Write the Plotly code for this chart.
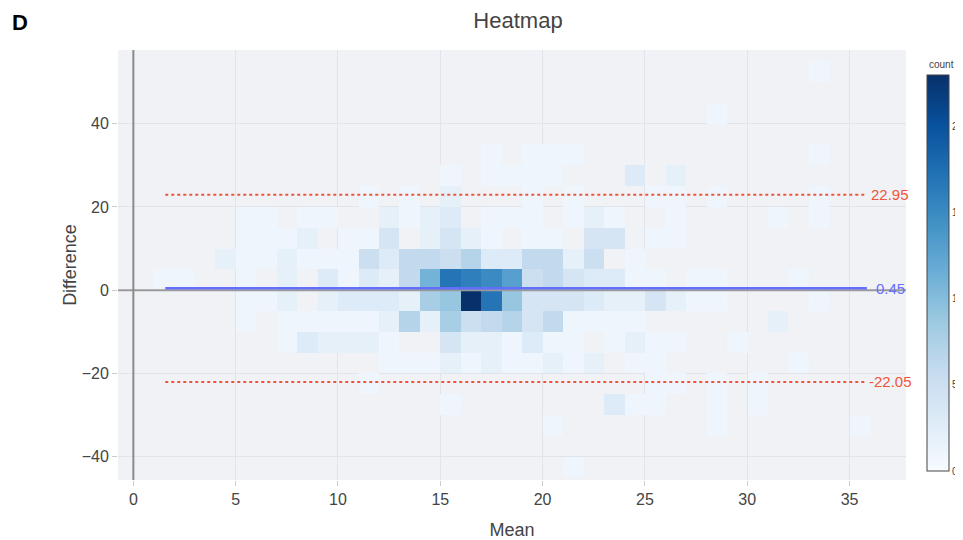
import numpy as np
import plotly.graph_objects as go

# ---- data: 2D histogram of (Mean, Difference), bins of 1 (Mean) x 5 (Difference)
x_edges = list(range(1, 38))          # Mean bin edges
y_edges = list(range(-45, 65, 5))     # Difference bin edges

# non-empty cells: left edge of Mean bin, lower edge of Difference bin, count
cell_mean = [33, 28,
             17, 19, 20, 21, 33,
             15, 17, 18, 19, 20, 24, 26,
             11, 13, 15, 19, 21, 25, 26, 28, 33,
             5, 6, 8, 9, 12, 13, 14, 15, 17, 18, 19, 21, 22, 23, 26, 31, 33,
             5, 6, 7, 8, 10, 11, 12, 14, 15, 16, 17, 19, 20, 22, 23, 25, 26,
             4, 5, 6, 7, 8, 9, 10, 11, 12, 13, 14, 15, 16, 17, 18, 19, 20, 21, 22, 24,
             1, 2, 5, 7, 9, 10, 11, 12, 13, 14, 15, 16, 17, 18, 19, 20, 21, 22, 23, 24, 25, 27, 28, 32,
             5, 6, 7, 9, 10, 11, 12, 13, 14, 15, 16, 17, 18, 19, 20, 21, 22, 23, 24, 25, 26, 27, 28, 33,
             5, 7, 8, 9, 10, 11, 12, 13, 14, 15, 16, 17, 18, 19, 20, 21, 22, 23, 24, 31,
             7, 8, 9, 10, 11, 12, 15, 16, 17, 18, 19, 20, 21, 23, 24, 25, 26, 29,
             12, 13, 14, 15, 16, 17, 18, 19, 20, 21, 22, 24, 25, 32,
             11, 25, 26, 28, 30,
             15, 23, 24, 25, 28, 30,
             20, 28, 35,
             21]
cell_diff = [50, 40,
             30, 30, 30, 30, 30,
             25, 25, 25, 25, 25, 25, 25,
             20, 20, 20, 20, 20, 20, 20, 20, 20,
             15, 15, 15, 15, 15, 15, 15, 15, 15, 15, 15, 15, 15, 15, 15, 15, 15,
             10, 10, 10, 10, 10, 10, 10, 10, 10, 10, 10, 10, 10, 10, 10, 10, 10,
             5, 5, 5, 5, 5, 5, 5, 5, 5, 5, 5, 5, 5, 5, 5, 5, 5, 5, 5, 5,
             0, 0, 0, 0, 0, 0, 0, 0, 0, 0, 0, 0, 0, 0, 0, 0, 0, 0, 0, 0, 0, 0, 0, 0,
             -5, -5, -5, -5, -5, -5, -5, -5, -5, -5, -5, -5, -5, -5, -5, -5, -5, -5, -5, -5, -5, -5, -5, -5,
             -10, -10, -10, -10, -10, -10, -10, -10, -10, -10, -10, -10, -10, -10, -10, -10, -10, -10, -10, -10,
             -15, -15, -15, -15, -15, -15, -15, -15, -15, -15, -15, -15, -15, -15, -15, -15, -15, -15,
             -20, -20, -20, -20, -20, -20, -20, -20, -20, -20, -20, -20, -20, -20,
             -25, -25, -25, -25, -25,
             -30, -30, -30, -30, -30, -30,
             -35, -35, -35,
             -45]
cell_count = [1, 1,
              1, 1, 1, 1, 1,
              1, 1, 1, 1, 1, 3, 2,
              1, 1, 2, 1, 1, 1, 1, 1, 1,
              1, 1, 1, 1, 2, 1, 2, 3, 1, 1, 1, 1, 2, 1, 1, 1, 1,
              1, 1, 1, 2, 1, 1, 4, 2, 4, 2, 1, 1, 1, 4, 4, 1, 1,
              2, 1, 1, 2, 1, 1, 1, 5, 3, 6, 6, 5, 7, 3, 3, 6, 6, 2, 5, 1,
              1, 1, 1, 2, 3, 1, 3, 2, 6, 11, 17, 16, 15, 13, 5, 6, 4, 3, 3, 1, 1, 1, 1, 1,
              1, 1, 2, 2, 3, 3, 3, 2, 8, 9, 23, 17, 9, 4, 4, 4, 3, 2, 2, 4, 2, 1, 1, 1,
              1, 1, 1, 1, 1, 1, 2, 7, 2, 8, 5, 6, 7, 4, 6, 1, 1, 1, 1, 2,
              1, 3, 2, 2, 2, 1, 4, 2, 2, 1, 3, 1, 1, 1, 2, 1, 1, 1,
              1, 1, 1, 2, 1, 2, 1, 1, 2, 1, 2, 1, 1, 1,
              1, 1, 1, 1, 1,
              1, 3, 1, 1, 1, 1,
              1, 1, 1,
              1]

# Bland-Altman statistics
mean_diff = 0.45
upper_loa = 22.95
lower_loa = -22.05
mean_min, mean_max = 1.56, 35.85
label_offset = 1.13   # labels centred just right of the lines

x_range = [-0.75, 37.76]
y_range = [-45.6, 57.7]

# ---- build grid
z = np.full((len(y_edges) - 1, len(x_edges) - 1), np.nan)
for xb, yb, c in zip(cell_mean, cell_diff, cell_count):
    z[(yb - y_edges[0]) // 5, xb - x_edges[0]] = c
x_centers = [e + 0.5 for e in x_edges[:-1]]
y_centers = [e + 2.5 for e in y_edges[:-1]]

BLUE = "#636EFA"
RED = "#EF553B"
FONT = "Arial"

fig = go.Figure()
fig.add_trace(go.Heatmap(
    x=x_centers, y=y_centers, z=z,
    colorscale="Blues", zmin=0, zmax=23,
    hoverongaps=False,
    colorbar=dict(
        thickness=22, thicknessmode="pixels",
        len=396, lenmode="pixels",
        x=1.0265, xanchor="left", xpad=0,
        y=0.0209, yanchor="bottom", ypad=0,
        outlinewidth=1, outlinecolor="#444",
        tickvals=[0, 5, 10, 15, 20],
        tickfont=dict(size=10, color="#444", family=FONT),
    ),
))

# zero reference lines (drawn over the heatmap)
fig.add_trace(go.Scatter(x=x_range, y=[0, 0], mode="lines",
                         line=dict(color="#9a9a9a", width=2),
                         hoverinfo="skip", showlegend=False))
fig.add_trace(go.Scatter(x=[0, 0], y=y_range, mode="lines",
                         line=dict(color="#8a8a8a", width=2),
                         hoverinfo="skip", showlegend=False))

# mean and limits of agreement
for val, color, dash, w in [(upper_loa, RED, "dot", 2),
                            (lower_loa, RED, "dot", 2),
                            (mean_diff, BLUE, "solid", 2.5)]:
    fig.add_trace(go.Scatter(x=[mean_min, mean_max], y=[val, val], mode="lines",
                             line=dict(color=color, width=w, dash=dash),
                             hoverinfo="skip", showlegend=False))
    fig.add_annotation(x=mean_max + label_offset, y=val, xref="x", yref="y",
                       text=f"{val:.2f}", showarrow=False,
                       xanchor="center", yanchor="middle",
                       font=dict(size=15, color=color, family=FONT))

fig.add_annotation(x=-0.137, y=1.065, xref="paper", yref="paper",
                   text="<b>D</b>", showarrow=False,
                   xanchor="left", yanchor="middle",
                   font=dict(size=22, color="black", family=FONT))
fig.add_annotation(x=1.045, y=0.967, xref="paper", yref="paper",
                   text="count", showarrow=False,
                   xanchor="center", yanchor="middle",
                   font=dict(size=10, color="#444", family=FONT))

axis_common = dict(
    showgrid=True, gridcolor="#E1E4EA", gridwidth=1,
    zeroline=False, showline=False,
    ticks="outside", ticklen=5, tickcolor="#cccccc",
    tickfont=dict(size=16, color="#444", family=FONT),
)
fig.update_layout(
    width=955, height=532,
    margin=dict(l=110, r=57, t=42, b=60, autoexpand=False),
    paper_bgcolor="white", plot_bgcolor="#F0F2F6",
    font=dict(family=FONT, color="#444"),
    title=dict(text="Heatmap", x=0.5076, xref="paper", xanchor="center",
               y=1 - 12 / 532, yref="container", yanchor="middle",
               font=dict(size=22, color="#444", family=FONT)),
    showlegend=False,
    xaxis=dict(range=x_range, dtick=5, tick0=0,
               title=dict(text="Mean", font=dict(size=18, family=FONT), standoff=16),
               **axis_common),
    yaxis=dict(range=y_range, dtick=20, tick0=0,
               title=dict(text="Difference", font=dict(size=18, family=FONT), standoff=0),
               **axis_common),
)

fig.write_html("out.html")
